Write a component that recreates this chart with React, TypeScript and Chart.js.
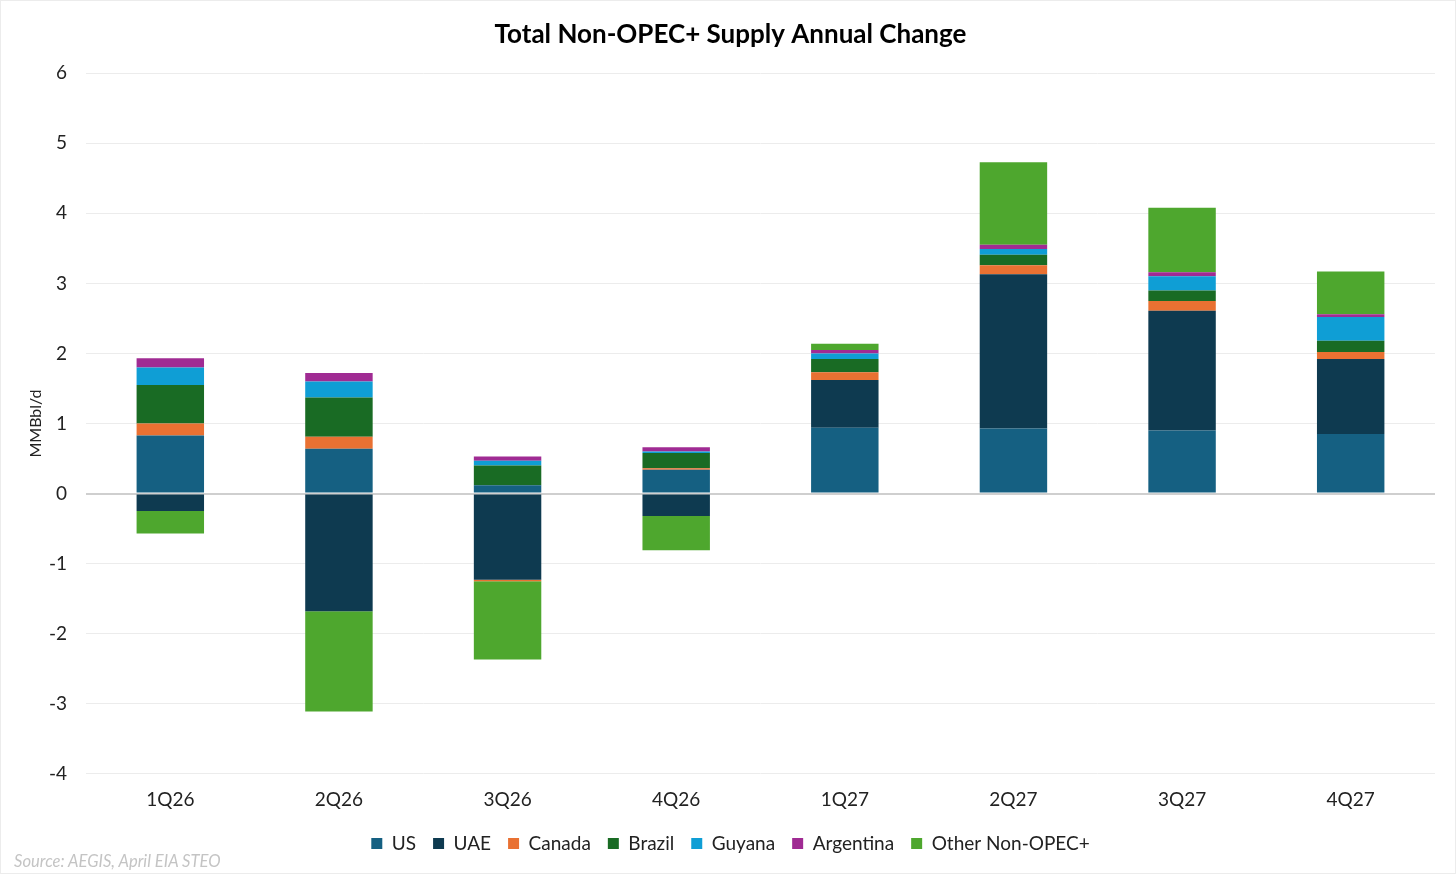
import React, { useEffect, useRef } from "react";
import { Chart, ChartConfiguration, registerables } from "chart.js";

Chart.register(...registerables);

const quarters = ["1Q26", "2Q26", "3Q26", "4Q26", "1Q27", "2Q27", "3Q27", "4Q27"];

const us = [0.83, 0.64, 0.12, 0.34, 0.94, 0.93, 0.9, 0.85];
const uae = [-0.25, -1.68, -1.23, -0.32, 0.68, 2.2, 1.71, 1.07];
const canada = [0.17, 0.17, -0.02, 0.02, 0.11, 0.13, 0.14, 0.1];
const brazil = [0.55, 0.56, 0.28, 0.22, 0.19, 0.15, 0.15, 0.16];
const guyana = [0.25, 0.23, 0.07, 0.02, 0.08, 0.08, 0.2, 0.34];
const argentina = [0.13, 0.12, 0.06, 0.06, 0.05, 0.06, 0.06, 0.04];
const otherNonOpec = [-0.32, -1.43, -1.12, -0.49, 0.09, 1.18, 0.92, 0.61];

const FONT = "Lato, 'Open Sans', sans-serif";

const App: React.FC = () => {
  const chartRef = useRef<HTMLCanvasElement | null>(null);
  const chartInstance = useRef<Chart | null>(null);

  useEffect(() => {
    if (!chartRef.current) return;
    if (chartInstance.current) chartInstance.current.destroy();

    const ctx = chartRef.current.getContext("2d");
    if (!ctx) return;

    const series = [
      { label: "US", data: us, color: "#156082" },
      { label: "UAE", data: uae, color: "#0e3a50" },
      { label: "Canada", data: canada, color: "#e97132" },
      { label: "Brazil", data: brazil, color: "#196b24" },
      { label: "Guyana", data: guyana, color: "#0f9ed5" },
      { label: "Argentina", data: argentina, color: "#a02b93" },
      { label: "Other Non-OPEC+", data: otherNonOpec, color: "#4ea72e" },
    ];

    const config: ChartConfiguration = {
      type: "bar",
      data: {
        labels: quarters,
        datasets: series.map((s) => ({
          label: s.label,
          data: s.data,
          backgroundColor: s.color,
          borderWidth: 0,
          barPercentage: 0.4,
          categoryPercentage: 1,
        })),
      },
      options: {
        animation: false,
        responsive: false,
        maintainAspectRatio: false,
        layout: { padding: { left: 25, right: 20, top: 8, bottom: 10 } },
        plugins: {
          title: {
            display: true,
            text: "Total Non-OPEC+ Supply Annual Change",
            color: "#000",
            font: { family: FONT, size: 26, weight: "bold" },
            padding: { top: 10, bottom: 23 },
          },
          legend: {
            position: "bottom",
            labels: {
              color: "#222",
              font: { family: FONT, size: 19 },
              boxWidth: 11,
              boxHeight: 11,
              padding: 17,
            },
          },
          tooltip: { enabled: false },
        },
        scales: {
          x: {
            stacked: true,
            grid: { display: false },
            border: { display: false },
            ticks: {
              color: "#222",
              font: { family: FONT, size: 19, lineHeight: 0.8 },
              padding: 10,
            },
          },
          y: {
            stacked: true,
            min: -4,
            max: 6,
            border: { display: false },
            afterFit: (scale: any) => {
              scale.width = 60;
            },
            grid: {
              drawTicks: false,
              color: (c: any) => (c.tick && c.tick.value === 0 ? "#cfcfcf" : "#ececec"),
              lineWidth: (c: any) => (c.tick && c.tick.value === 0 ? 2 : 1),
            },
            ticks: {
              stepSize: 1,
              color: "#222",
              font: { family: FONT, size: 19 },
              padding: 19,
            },
            title: {
              display: true,
              text: "MMBbl/d",
              color: "#222",
              font: { family: FONT, size: 16 },
              padding: { top: 0, bottom: 0 },
            },
          },
        },
      },
    };

    chartInstance.current = new Chart(ctx, config);

    return () => {
      if (chartInstance.current) {
        chartInstance.current.destroy();
        chartInstance.current = null;
      }
    };
  }, []);

  return (
    <div
      style={{
        position: "fixed",
        left: 0,
        top: 0,
        width: 1456,
        height: 874,
        background: "#fff",
        boxSizing: "border-box",
        border: "1px solid #ececec",
      }}
    >
      <canvas ref={chartRef} width={1454} height={872} style={{ display: "block" }}></canvas>
      <div
        style={{
          position: "absolute",
          left: 13,
          top: 850,
          fontFamily: FONT,
          fontStyle: "italic",
          fontSize: 16.6,
          color: "#c4c4c4",
        }}
      >
        Source: AEGIS, April EIA STEO
      </div>
    </div>
  );
};

export default App;
